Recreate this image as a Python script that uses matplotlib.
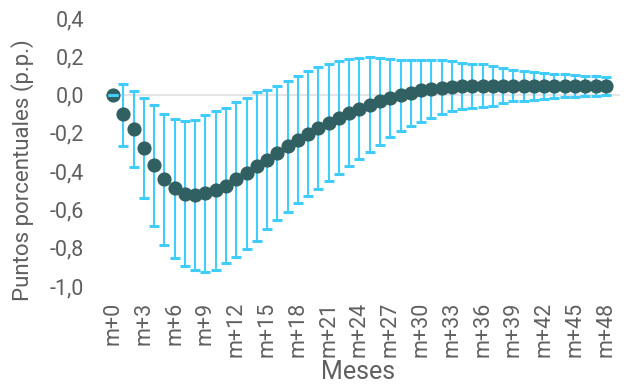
import numpy as np
import matplotlib
matplotlib.use("Agg")
import matplotlib.pyplot as plt

plt.rcParams['font.family'] = ['Roboto', 'DejaVu Sans']

# meses m+0 ... m+48
meses = np.arange(49)
etiquetas = ['m+%d' % m for m in meses[::3]]

# estimación puntual (p.p.)
punto = [0.0, -0.10, -0.18, -0.28, -0.37, -0.44, -0.49, -0.52, -0.525, -0.515,
         -0.50, -0.475, -0.44, -0.41, -0.375, -0.34, -0.305, -0.27, -0.237, -0.205,
         -0.175, -0.148, -0.122, -0.096, -0.073, -0.052, -0.034, -0.017, -0.003, 0.011,
         0.022, 0.030, 0.037, 0.042, 0.044, 0.045, 0.046, 0.046, 0.046, 0.046,
         0.046, 0.046, 0.046, 0.046, 0.046, 0.046, 0.046, 0.046, 0.046]

# banda superior
superior = [0.0, 0.056, 0.02, -0.018, -0.055, -0.10, -0.128, -0.139, -0.132, -0.107,
            -0.085, -0.069, -0.041, -0.015, 0.012, 0.025, 0.046, 0.072, 0.098, 0.123,
            0.144, 0.161, 0.174, 0.184, 0.191, 0.196, 0.194, 0.184, 0.18, 0.18,
            0.18, 0.18, 0.18, 0.175, 0.165, 0.161, 0.158, 0.149, 0.139, 0.128,
            0.122, 0.116, 0.113, 0.109, 0.107, 0.105, 0.10, 0.097, 0.093]

# banda inferior
inferior = [0.0, -0.268, -0.378, -0.54, -0.687, -0.786, -0.854, -0.895, -0.916, -0.925,
            -0.915, -0.882, -0.847, -0.807, -0.763, -0.704, -0.655, -0.613, -0.568, -0.53,
            -0.492, -0.452, -0.414, -0.375, -0.338, -0.30, -0.264, -0.222, -0.19, -0.166,
            -0.142, -0.122, -0.102, -0.085, -0.076, -0.069, -0.067, -0.058, -0.046, -0.035,
            -0.032, -0.027, -0.022, -0.017, -0.013, -0.010, -0.008, -0.006, -0.004]

punto = np.array(punto)
err = [punto - np.array(inferior), np.array(superior) - punto]

gris = '#5f5f5f'
fig = plt.figure(figsize=(6.29, 3.85), dpi=100)
ax = fig.add_axes([0.167, 0.242, 0.819, 0.721])

ax.axhline(0, color='#e0e0e0', lw=1.2, zorder=1)

# barras de error
_, caps, bars = ax.errorbar(meses, punto, yerr=err, fmt='none', ecolor='#40cdfc',
                            elinewidth=1.5, capsize=3.8, capthick=2.2, zorder=2)
for c in caps:
    c.set_zorder(4)

# puntos
ax.plot(meses, punto, 'o', color='#316062', markersize=9.2, zorder=3)

ax.set_xlim(-0.78, 49.4)
ax.set_ylim(-1.03, 0.42)
ax.set_xticks(meses[::3])
ax.set_xticklabels(etiquetas, rotation=90)
yt = np.arange(-1.0, 0.41, 0.2)
ax.set_yticks(yt)
ax.set_yticklabels([('%.1f' % v).replace('.', ',').replace('-0,0', '0,0') for v in yt])

ax.tick_params(axis='both', length=0, labelsize=15.5, colors=gris)
ax.tick_params(axis='y', pad=15)
ax.tick_params(axis='x', pad=7)
for s in ax.spines.values():
    s.set_visible(False)

ax.set_xlabel('Meses', fontsize=18, color=gris, va='center')
ax.xaxis.set_label_coords(0.491, -0.289)
ax.set_ylabel('Puntos porcentuales (p.p.)', fontsize=16, color=gris, va='center')
ax.yaxis.set_label_coords(-0.161, 0.438)

plt.savefig('out.png', dpi=100)
